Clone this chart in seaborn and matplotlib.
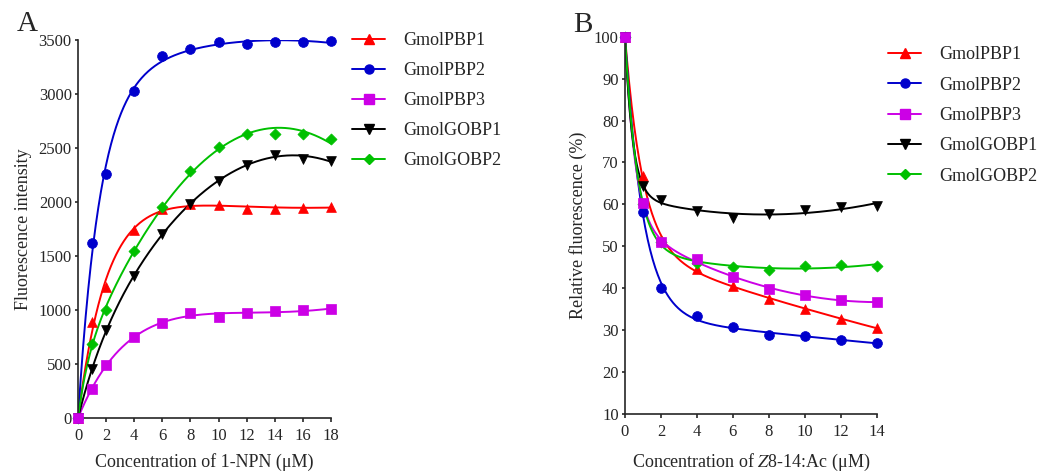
import numpy as np
import pandas as pd
import matplotlib
matplotlib.use("Agg")
import matplotlib.pyplot as plt
from matplotlib.lines import Line2D
import seaborn as sns

# ---------------- data ----------------
names = ["GmolPBP1", "GmolPBP2", "GmolPBP3", "GmolGOBP1", "GmolGOBP2"]
colors = ["#FF0000", "#0000CC", "#CC00E6", "#000000", "#00C000"]
markers = ["^", "o", "s", "v", "D"]

# Panel A: 1-NPN binding
conc_npn = [0, 1, 2, 4, 6, 8, 10, 12, 14, 16, 18]
a_pbp1 = [0, 888, 1215, 1739, 1936, 1980, 1973, 1936, 1936, 1942, 1955]
a_pbp2 = [0, 1615, 2257, 3027, 3348, 3416, 3475, 3455, 3475, 3475, 3490]
a_pbp3 = [0, 271, 487, 746, 881, 974, 937, 968, 987, 999, 1005]
a_gobp1 = [0, 450, 814, 1313, 1705, 1980, 2192, 2343, 2430, 2399, 2380]
a_gobp2 = [0, 684, 999, 1548, 1949, 2288, 2510, 2627, 2627, 2627, 2578]

# Panel B: competitive binding with Z8-14:Ac
conc_lig = [0, 1, 2, 4, 6, 8, 10, 12, 14]
b_pbp1 = [100, 66.7, 51.5, 44.6, 40.6, 37.5, 35.0, 32.7, 30.6]
b_pbp2 = [100, 58.3, 40.0, 33.3, 30.7, 28.9, 28.6, 27.7, 26.9]
b_pbp3 = [100, 60.4, 51.1, 46.9, 42.7, 39.7, 38.4, 37.3, 36.6]
b_gobp1 = [100, 64.5, 61.0, 58.4, 56.8, 57.6, 58.7, 59.4, 59.7]
b_gobp2 = [100, 60.0, 51.0, 46.1, 45.1, 44.4, 45.2, 45.5, 45.3]

series_a = [a_pbp1, a_pbp2, a_pbp3, a_gobp1, a_gobp2]
series_b = [b_pbp1, b_pbp2, b_pbp3, b_gobp1, b_gobp2]

# ---------------- fitting helpers ----------------
def fit_sat(x, y):
    x = np.asarray(x, float); y = np.asarray(y, float)
    best = None
    for k in np.logspace(-2, 1, 500):
        M = np.column_stack([1 - np.exp(-k * x), x, x ** 2])
        coef, *_ = np.linalg.lstsq(M, y, rcond=None)
        r = np.sum((M @ coef - y) ** 2)
        if best is None or r < best[0]:
            best = (r, k, coef)
    _, k, c = best
    xs = np.linspace(0, x.max(), 300)
    return xs, c[0] * (1 - np.exp(-k * xs)) + c[1] * xs + c[2] * xs ** 2

def fit_decay(x, y):
    x = np.asarray(x, float); y = np.asarray(y, float)
    best = None
    for k in np.logspace(-2, 1.3, 500):
        M = np.column_stack([np.exp(-k * x), np.ones_like(x), x, x ** 2])
        coef, *_ = np.linalg.lstsq(M, y, rcond=None)
        r = np.sum((M @ coef - y) ** 2)
        if best is None or r < best[0]:
            best = (r, k, coef)
    _, k, c = best
    xs = np.linspace(0, x.max(), 300)
    return xs, c[0] * np.exp(-k * xs) + c[1] + c[2] * xs + c[3] * xs ** 2

# ---------------- style ----------------
sns.set_style("ticks")
plt.rcParams["font.family"] = ["Liberation Serif", "DejaVu Serif"]
plt.rcParams["mathtext.fontset"] = "stix"
plt.rcParams["axes.linewidth"] = 1.2
plt.rcParams["xtick.major.width"] = 1.2
plt.rcParams["ytick.major.width"] = 1.2

fig = plt.figure(figsize=(10.49, 4.72), dpi=100)
axA = fig.add_axes([0.0744, 0.1144, 0.2411, 0.8019])
axB = fig.add_axes([0.5958, 0.1229, 0.2399, 0.7993])

zorders = [3, 4, 6, 4, 3]

def draw(ax, xvals, series, fitter):
    for i, (nm, col, mk, ys) in enumerate(zip(names, colors, markers, series)):
        xs, yf = fitter(xvals, ys)
        sns.lineplot(x=xs, y=yf, ax=ax, color=col, lw=1.4, zorder=2, legend=False)
        df = pd.DataFrame({"x": xvals, "y": ys})
        ms = 50 if mk != "D" else 32
        sns.scatterplot(data=df, x="x", y="y", ax=ax, color=col, marker=mk,
                        s=ms, edgecolor=col, linewidth=0.5, zorder=zorders[i],
                        legend=False, clip_on=False)

draw(axA, conc_npn, series_a, fit_sat)
draw(axB, conc_lig, series_b, fit_decay)

fs = 13
tfs = 12
for ax in (axA, axB):
    sns.despine(ax=ax)
    ax.tick_params(axis="y", labelsize=tfs, length=2.5, pad=2)
    ax.tick_params(axis="x", labelsize=tfs, length=3, pad=4)

axA.set_xlim(0, 18)
axA.set_ylim(0, 3500)
axA.set_xticks(range(0, 19, 2))
axA.set_yticks(range(0, 3501, 500))
axA.set_xlabel("Concentration of 1-NPN (μM)", fontsize=fs, labelpad=7)
axA.set_ylabel("Fluorescence intensity", fontsize=fs, labelpad=5)

axB.set_xlim(0, 14)
axB.set_ylim(10, 100)
axB.set_xticks(range(0, 15, 2))
axB.set_yticks(range(10, 101, 10))
axB.set_xlabel("Concentration of $\\mathit{Z}$8-14:Ac (μM)", fontsize=fs, labelpad=9)
axB.set_ylabel("Relative fluorescence (%)", fontsize=fs, labelpad=5)

fig.text(0.016, 0.935, "A", fontsize=21)
fig.text(0.546, 0.933, "B", fontsize=21)

handles = [Line2D([0], [0], color=c, marker=m, markersize=(6.5 if m != "D" else 5),
                  lw=1.4, markeredgecolor=c) for c, m in zip(colors, markers)]

fig.legend(handles, names, loc="upper left", bbox_to_anchor=(0.3356, 0.932),
           frameon=False, fontsize=fs, handlelength=1.85, handletextpad=1.0,
           labelspacing=0.72, borderpad=0, borderaxespad=0)
fig.legend(handles, names, loc="upper left", bbox_to_anchor=(0.8465, 0.902),
           frameon=False, fontsize=fs, handlelength=1.85, handletextpad=1.0,
           labelspacing=0.74, borderpad=0, borderaxespad=0)

fig.savefig("out.png", dpi=100)
